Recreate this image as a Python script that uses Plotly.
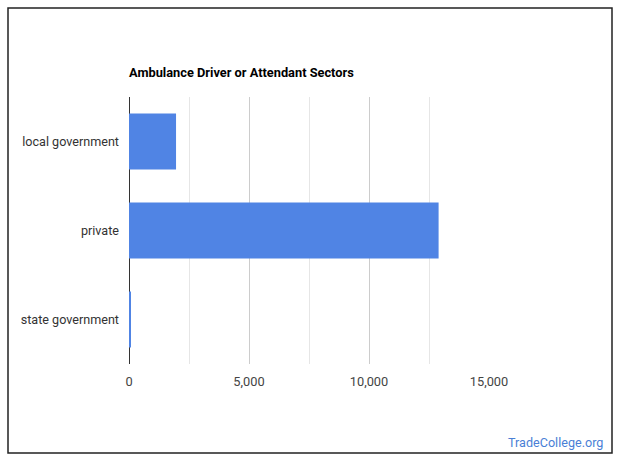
import plotly.graph_objects as go

categories = ["local government", "private", "state government"]
values = [1960, 12900, 80]
x_ticks = [0, 5000, 10000, 15000]
x_tick_labels = ["0", "5,000", "10,000", "15,000"]

W, H = 620, 465
L, R, T, B = 129, 489, 97, 364
pw, ph = R - L, B - T

def px_x(x):
    return (x - L) / pw

def px_y(y):
    return (B - y) / ph

fig = go.Figure(go.Bar(
    x=values, y=categories, orientation="h",
    marker=dict(color="#5084E4", line=dict(width=0)),
    width=0.63,
))

fig.update_layout(
    width=W, height=H,
    margin=dict(l=L, r=W - R, t=T, b=H - B, pad=0),
    paper_bgcolor="white", plot_bgcolor="white",
    font=dict(family="Roboto, Arial, sans-serif", size=12.6, color="#333"),
    showlegend=False,
    xaxis=dict(
        range=[0, 15000],
        tickvals=x_ticks, ticktext=x_tick_labels,
        showgrid=True, gridcolor="#cccccc", gridwidth=1,
        minor=dict(dtick=2500, tick0=0, showgrid=True, gridcolor="#e6e6e6", gridwidth=1),
        zeroline=True, zerolinecolor="#333333", zerolinewidth=1,
        showline=False, ticks="", ticklabelstandoff=8,
        tickfont=dict(size=12.8, color="#444"),
        fixedrange=True,
    ),
    yaxis=dict(
        categoryorder="array", categoryarray=categories[::-1],
        showgrid=False, zeroline=False, showline=False, ticks="",
        ticklabelstandoff=9,
        tickfont=dict(size=12.6, color="#333"),
        fixedrange=True,
    ),
    shapes=[dict(
        type="rect", xref="paper", yref="paper",
        x0=px_x(8), x1=px_x(612), y0=px_y(453), y1=px_y(8),
        line=dict(color="#222222", width=1.5), fillcolor="rgba(0,0,0,0)",
        layer="below",
    )],
    annotations=[
        dict(text="<b>Ambulance Driver or Attendant Sectors</b>",
             xref="paper", yref="paper", x=0, y=px_y(72), xshift=-2,
             xanchor="left", yanchor="middle", showarrow=False,
             font=dict(size=12.8, color="#000")),
        dict(text="TradeCollege.org",
             xref="paper", yref="paper", x=px_x(605), y=px_y(442),
             xanchor="right", yanchor="middle", showarrow=False,
             font=dict(size=12.6, color="#4a7fd6")),
    ],
)

fig.write_html("out.html")
